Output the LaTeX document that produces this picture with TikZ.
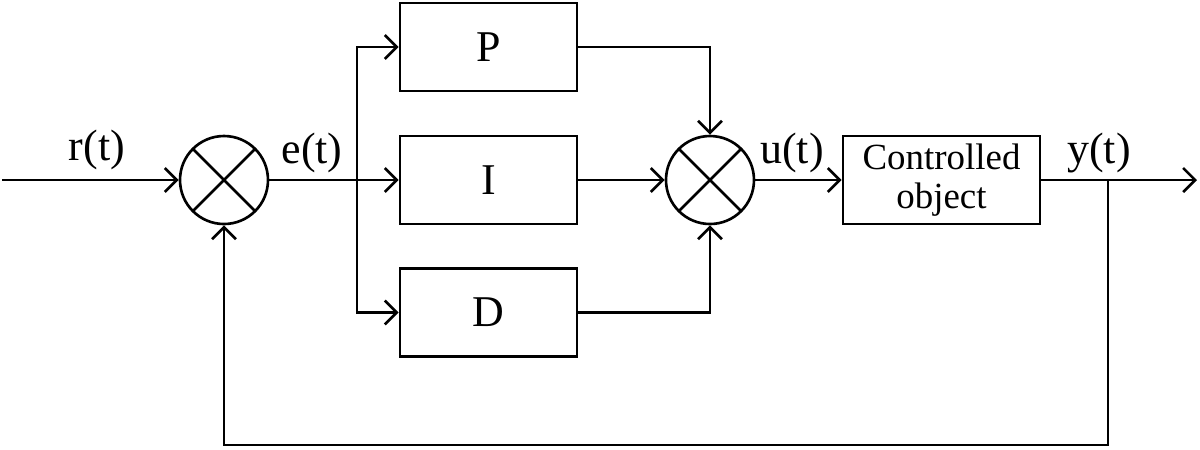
\documentclass[tikz,border=0pt]{standalone}
\usepackage{fontspec}
\setmainfont{Liberation Serif}
\usetikzlibrary{arrows.meta}
\tikzset{
  block/.style={draw, line width=0.75pt, minimum width=1.77cm, minimum height=0.88cm,
    inner sep=0pt, font=\fontsize{12.5}{15}\selectfont},
  summer/.style={draw, circle, line width=0.75pt, minimum size=0.88cm, inner sep=0pt,
    path picture={\draw[line width=0.75pt]
      (path picture bounding box.north west) -- (path picture bounding box.south east)
      (path picture bounding box.north east) -- (path picture bounding box.south west);}},
  sig/.style={line width=0.75pt, -{Straight Barb[length=1.2mm,width=2.4mm]}},
  wire/.style={line width=0.75pt},
  lbl/.style={font=\fontsize{12.5}{15}\selectfont, inner sep=0pt}
}

\begin{document}
\begin{tikzpicture}
 \useasboundingbox (0,-2.69) rectangle (12,1.80);

 % summing junctions and blocks
 \node[summer] (sum1) at (2.24,0) {};
 \node[summer] (sum2) at (7.10,0) {};
 \node[block] (P) at (4.885,1.33) {P};
 \node[block] (I) at (4.885,0) {I};
 \node[block] (D) at (4.885,-1.325) {D};
 \node[block, minimum width=1.97cm, align=center,
   font=\fontsize{10.5}{11.2}\selectfont] (plant) at (9.415,0) {Controlled\\object};

 \coordinate (in) at (0.02,0);
 \coordinate (split) at (3.57,0);
 \coordinate (tap) at (11.08,0);
 \coordinate (out) at (11.97,0);
 \coordinate (fb) at (11.08,-2.65);

 % signals
 \draw[sig] (in) -- (sum1.west);
 \draw[wire] (sum1.east) -- (split);
 \draw[sig] (split) -- (I.west);
 \draw[sig] (split) |- (P.west);
 \draw[sig] (split) |- (D.west);
 \draw[sig] (P.east) -| (sum2.north);
 \draw[sig] (I.east) -- (sum2.west);
 \draw[sig] (D.east) -| (sum2.south);
 \draw[sig] (sum2.east) -- (plant.west);
 \draw[sig] (plant.east) -- (out);
 \draw[sig] (tap) -- (fb) -| (sum1.south);

 % labels
 \node[lbl] (rlbl) at (0.97,0.30) {r(t)};
 \node[lbl] (elbl) at (3.12,0.27) {e(t)};
 \node[lbl] (ulbl) at (7.92,0.27) {u(t)};
 \node[lbl] (ylbl) at (10.99,0.27) {y(t)};

\end{tikzpicture}
\end{document}
